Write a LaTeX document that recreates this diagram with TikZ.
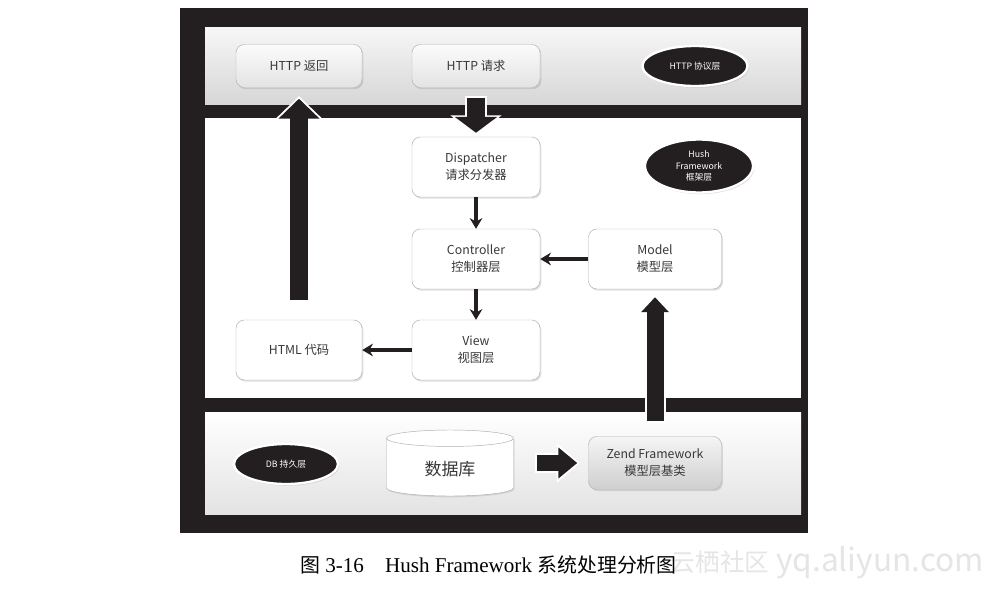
\documentclass[tikz,border=0pt]{standalone}
\usepackage{fontspec}
\setmainfont{Liberation Serif}
\newfontfamily\cjk{Noto Sans CJK SC}
\usepackage{tikz}
\usetikzlibrary{positioning,shapes.geometric,arrows.meta,shadows}
\definecolor{frameblack}{HTML}{231F20}
\definecolor{boxline}{HTML}{AFAFAF}

\begin{document}
\begin{tikzpicture}[x=0.3mm, y=-0.3mm, >=stealth,
  every node/.style={font=\cjk\fontsize{10.5}{14.5}\selectfont, align=center, text=black!78},
  box/.style={draw=boxline, rounded corners=2.5mm, fill=white, minimum width=38.4mm, minimum height=18mm,
    drop shadow={opacity=0.25, shadow xshift=0.4mm, shadow yshift=-0.5mm}},
  topbox/.style={box, minimum height=12.9mm, top color=gray!3, bottom color=gray!22},
  layer/.style={ellipse, draw=white, line width=0.7mm, fill=frameblack, text=white, inner sep=0pt,
    font=\cjk\fontsize{7.5}{9.5}\selectfont, drop shadow={opacity=0.25, shadow xshift=0.4mm, shadow yshift=-0.5mm}},
  flow/.style={draw=frameblack, line width=1mm, -{Stealth[length=3.2mm, width=3.8mm]}},
  bigarrow/.style n args={3}{draw=frameblack, line width=#1, -{Triangle[width=#2, length=#3]},
    preaction={draw=white, line width=#1+1.2mm, -{Triangle[width=#2+2.4mm, length=#3+1.2mm]},
      shorten >=-0.8mm, shorten <=-0.6mm}}
]
\useasboundingbox[fill=white] (0,0) rectangle (996,591);

% frame and layers
\fill[frameblack] (180,8) rectangle (808,533);
\shade[top color=gray!6, bottom color=gray!32] (205,27) rectangle (801,104);
\fill[white] (205,118) rectangle (801,398);
\shade[top color=white, bottom color=gray!22] (205,412) rectangle (801,514);

% HTTP layer
\node[topbox, minimum width=37.8mm] (ret) at (299,66) {HTTP 返回};
\node[topbox] (req) at (476,66) {HTTP 请求};
\node[layer, minimum width=31.5mm, minimum height=12mm] (httplayer) at (695,66) {HTTP 协议层};

% framework layer
\node[box] (disp) at (476,167) {Dispatcher\\请求分发器};
\node[layer, minimum width=32.4mm, minimum height=15.9mm] (hushlayer) at (699,166) {Hush\\Framework\\框架层};
\node[box] (ctrl) at (476,259) {Controller\\控制器层};
\node[box, minimum width=39.9mm] (model) at (655,259) {Model\\模型层};
\node[box, minimum width=37.8mm] (html) at (299,350) {HTML 代码};
\node[box] (view) at (476,350) {View\\视图层};

% DB layer
\node[layer, minimum width=31.2mm, minimum height=12mm] (dblayer) at (286,464) {DB 持久层};
\node[cylinder, shape border rotate=90, aspect=0.28, draw=boxline, fill=white, anchor=shape center,
  minimum width=38.1mm, minimum height=19.8mm, font=\cjk\fontsize{14.5}{17}\selectfont,
  drop shadow={opacity=0.2, shadow xshift=0.3mm, shadow yshift=-0.4mm}] (db) at (450,463) {数据库};
\node[box, minimum width=39.9mm, minimum height=15.9mm, top color=gray!8, bottom color=gray!38] (zend) at (655,463) {Zend Framework\\模型层基类};

% connectors
\draw[flow] (disp) -- (ctrl);
\draw[flow] (ctrl) -- (view);
\draw[flow] (model) -- (ctrl);
\draw[flow] (view) -- (html);
\draw[bigarrow={5.4mm}{12.6mm}{4.8mm}] ([yshift=-3mm]req.south) -- ([yshift=1.2mm]disp.north);
\draw[bigarrow={5.4mm}{12mm}{6mm}] ([yshift=6mm]html.north) -- ([yshift=-3.3mm]ret.south);
\draw[bigarrow={5.1mm}{8.1mm}{4.5mm}] ([yshift=4.5mm]zend.north) -- ([yshift=-2.4mm]model.south);
\draw[bigarrow={4.8mm}{9mm}{5.7mm}] ([xshift=6.9mm]db.east |- zend.west) -- ([xshift=-3.3mm]zend.west);

% caption
\node[anchor=east, font=\cjk\fontsize{27}{30}\selectfont, text=gray!20] (mark) at (988,563)
  {{\fontsize{21}{24}\selectfont 云栖社区} yq.aliyun.com};
\node[anchor=west, font=\rmfamily\fontsize{18}{20}\selectfont, text=black] (caption) at (296,565)
  {{\cjk\fontsize{17}{20}\selectfont 图} 3-16\quad Hush Framework {\cjk\fontsize{17}{20}\selectfont 系统处理分析图}};
\end{tikzpicture}
\end{document}
